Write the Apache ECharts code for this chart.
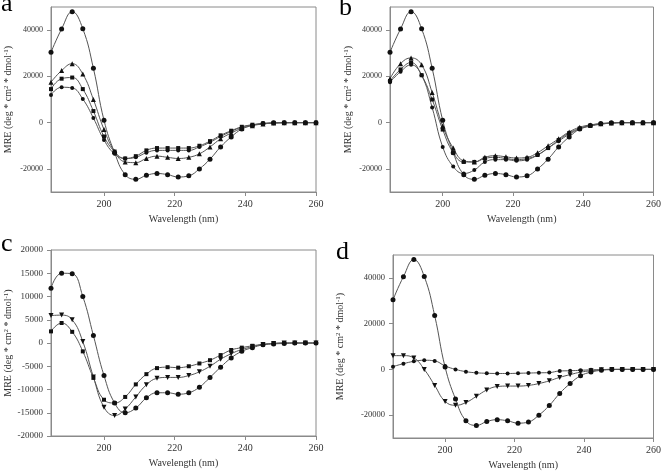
<!DOCTYPE html>
<html>
<head>
<meta charset="utf-8">
<title>CD spectra</title>
<script src="https://cdn.jsdelivr.net/npm/echarts@6.0.0/dist/echarts.min.js"></script>
<style>
  html, body { margin: 0; padding: 0; background: #fff; }
  #main { width: 664px; height: 471px; }
</style>
</head>
<body>
<div id="main"></div>
<script>
"use strict";

// wavelength (nm), one reading every 3 nm
var wavelengths = [185, 188, 191, 194, 197, 200, 203, 206, 209, 212, 215, 218, 221,
                   224, 227, 230, 233, 236, 239, 242, 245, 248, 251, 254, 257, 260];

// reference spectrum shared by panels a, b, d
var nativeMre = [30400, 40500, 48000, 40600, 23500, 1000, -13000, -22500, -24500, -22800, -22000, -22500, -23500,
                 -23000, -20000, -15800, -10500, -6200, -2800, -1200, -400, -100, 0, 0, 0, 0];

// panel a
var aTriangle = [17500, 22500, 25500, 21000, 10000, -3000, -12500, -17000, -17300, -15500, -14500, -15000, -15500,
                 -15000, -13500, -10500, -7000, -4500, -2500, -1300, -600, -200, -100, 0, 0, 0];
var aSquare = [14500, 19000, 19500, 14500, 5000, -6000, -12500, -15500, -14500, -12000, -11000, -11000, -11000,
               -11000, -10000, -8000, -5500, -3500, -1800, -900, -400, -100, 0, 0, 0, 0];
var aCircle = [12000, 15300, 15000, 10200, 2000, -7500, -13500, -15500, -15000, -13000, -12000, -12000, -12000,
               -12000, -10500, -8500, -6000, -3800, -2000, -1000, -500, -200, 0, 0, 0, 0];

// panel b
var bTriangle = [19000, 25500, 28000, 25000, 13000, -1500, -11000, -16500, -17000, -15000, -14300, -14800, -15300,
                 -15000, -13000, -10000, -7000, -4000, -2000, -1000, -500, -200, 0, 0, 0, 0];
var bSquare = [18000, 23000, 26000, 20500, 10000, -3000, -13000, -17000, -17000, -15500, -15000, -15500, -16000,
               -15500, -14000, -11000, -7500, -4500, -2500, -1300, -600, -200, 0, 0, 0, 0];
var bCircle = [17500, 22000, 25000, 20500, 6500, -10500, -19000, -22000, -20500, -17000, -16000, -16000, -16500,
               -16000, -14000, -11000, -8000, -5000, -2800, -1500, -700, -200, 0, 0, 0, 0];

// panel c
var cCircle = [11800, 15000, 14900, 10000, 1600, -7000, -12900, -15000, -14000, -11800, -10700, -10700, -11000,
               -10700, -9500, -7400, -5200, -3200, -1800, -1000, -400, -200, -100, 0, 0, 0];
var cSquare = [2500, 4300, 2400, -1800, -7500, -12200, -12900, -11600, -8900, -6700, -5400, -5200, -5300,
               -5000, -4400, -3700, -2600, -1500, -1000, -600, -300, -100, 0, 0, 0, 0];
var cTriDown = [5900, 6000, 5000, 300, -7300, -13800, -15600, -14200, -11600, -9000, -7600, -7400, -7400,
                -7000, -6200, -5000, -3500, -2300, -1400, -800, -300, -100, 0, 0, 0, 0];

// panel d
var dTriDown = [6000, 6000, 5000, 0, -7000, -14000, -15700, -14500, -11800, -9000, -7500, -7300, -7300,
                -7000, -6200, -5000, -3500, -2300, -1200, -600, -200, 0, 0, 0, 0, 0];
var dCircle = [1200, 2500, 3500, 4000, 3700, 1500, 0, -1000, -1500, -1700, -1800, -1800, -1700,
               -1600, -1500, -1400, -700, -600, -400, -200, -100, 0, 0, 0, 0, 0];

// tick labels
var xTicks = [200, 220, 240, 260];
var yTicksWide = [-20000, 0, 20000, 40000];
var panelLetters = ["a", "b", "c", "d"];

var serif = "Liberation Serif";
var frameColor = "#8a8a8a";

var grids = [
    {left: 51, top: 7, width: 265, height: 185},
    {left: 390, top: 7, width: 265, height: 185},
    {left: 51, top: 250, width: 265, height: 186},
    {left: 393, top: 255, width: 265, height: 184}
];
var yNameGaps = [38, 37, 38, 48];
var yLabelSizes = [8, 8, 9, 8.5];

function pairs(values) {
    return wavelengths.map(function (w, i) { return [w, values[i]]; });
}

function plain(v) {
    return String(v);
}

function xAxisFor(idx) {
    return {
        type: "value", gridIndex: idx, min: 185, max: 260,
        name: "Wavelength (nm)", nameLocation: "middle", nameGap: 22,
        nameTextStyle: {fontFamily: serif, fontSize: 10, color: "#333"},
        axisLine: {show: true, onZero: false, lineStyle: {color: frameColor}},
        axisTick: {show: true, length: 4, customValues: xTicks, lineStyle: {color: frameColor}},
        axisLabel: {customValues: xTicks, margin: 7, formatter: plain,
                    fontFamily: serif, fontSize: 10, color: "#333"},
        splitLine: {show: false}
    };
}

function yAxisFor(idx) {
    var ax = {
        type: "value", gridIndex: idx,
        name: "{t|MRE (deg * cm}{s|2}{t| * dmol}{s|-1}{t|)}",
        nameLocation: "middle", nameRotate: 90, nameGap: yNameGaps[idx],
        nameTextStyle: {
            rich: {
                t: {fontFamily: serif, fontSize: 10, color: "#333"},
                s: {fontFamily: serif, fontSize: 7, color: "#333", verticalAlign: "top"}
            }
        },
        axisLine: {show: true, onZero: false, lineStyle: {color: frameColor}},
        axisTick: {show: true, length: 4, lineStyle: {color: frameColor}},
        axisLabel: {margin: 8, formatter: plain, fontFamily: serif, fontSize: yLabelSizes[idx], color: "#333"},
        splitLine: {show: false}
    };
    if (idx === 2) {
        ax.min = -20000;
        ax.max = 20000;
        ax.interval = 5000;
    } else {
        ax.min = -30000;
        ax.max = 50000;
        ax.axisTick.customValues = yTicksWide;
        ax.axisLabel.customValues = yTicksWide;
    }
    return ax;
}

function line(idx, values, symbol, size, rotate) {
    return {
        type: "line", xAxisIndex: idx, yAxisIndex: idx,
        data: pairs(values), smooth: 0.45,
        symbol: symbol, symbolSize: size, symbolRotate: rotate || 0,
        lineStyle: {color: "#555", width: 1},
        itemStyle: {color: "#111"},
        emphasis: {disabled: true},
        z: 3
    };
}

var myChart = echarts.init(document.getElementById("main"));

var letterPos = [[1, 4], [339, 8], [1, 244], [336, 252]];

myChart.setOption({
    animation: false,
    backgroundColor: "#fff",
    grid: grids.map(function (g) {
        return {left: g.left, top: g.top, width: g.width, height: g.height,
                show: true, borderColor: frameColor, borderWidth: 1, backgroundColor: "transparent"};
    }),
    xAxis: [0, 1, 2, 3].map(xAxisFor),
    yAxis: [0, 1, 2, 3].map(yAxisFor),
    graphic: panelLetters.map(function (l, i) {
        return {
            type: "text", left: letterPos[i][0], top: letterPos[i][1] - 13,
            style: {text: l, font: "26px '" + serif + "'", fill: "#000"}
        };
    }),
    series: [
        line(0, nativeMre, "circle", 5),
        line(0, aTriangle, "triangle", 5),
        line(0, aSquare, "rect", 4),
        line(0, aCircle, "circle", 4),

        line(1, nativeMre, "circle", 5),
        line(1, bTriangle, "triangle", 5),
        line(1, bSquare, "rect", 4),
        line(1, bCircle, "circle", 4),

        line(2, cCircle, "circle", 5),
        line(2, cTriDown, "triangle", 5, 180),
        line(2, cSquare, "rect", 4),

        line(3, nativeMre, "circle", 5),
        line(3, dTriDown, "triangle", 5, 180),
        line(3, dCircle, "circle", 4)
    ]
});
</script>
</body>
</html>
